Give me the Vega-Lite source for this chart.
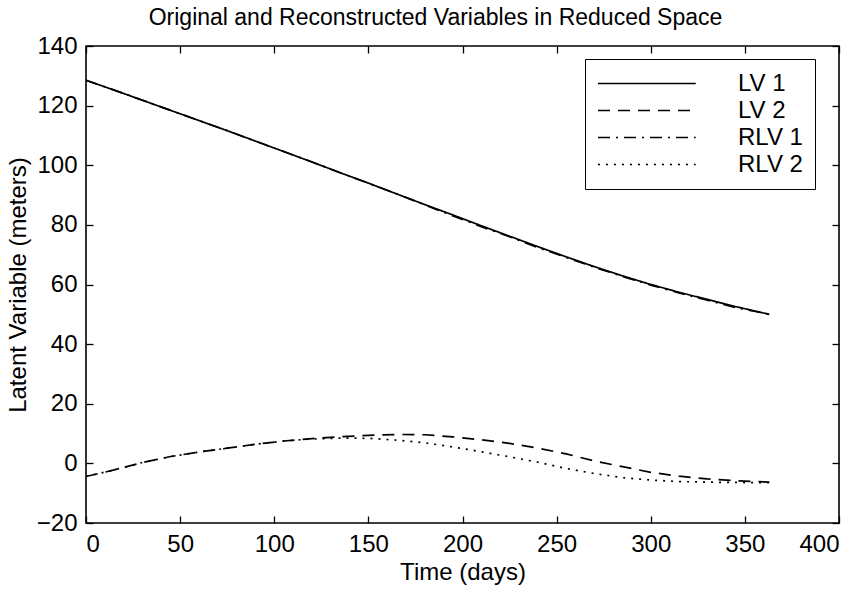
{
  "$schema": "https://vega.github.io/schema/vega-lite/v6.json",
  "width": 753,
  "height": 477,
  "autosize": {"type": "none"},
  "padding": {"left": 86, "top": 46, "right": 29, "bottom": 69},
  "background": "white",
  "config": {
    "font": "Liberation Sans",
    "view": {"stroke": "black", "strokeWidth": 1.6},
    "axis": {
      "grid": false,
      "domain": false,
      "tickColor": "black",
      "tickSize": -7,
      "tickWidth": 1.3,
      "labelFont": "Liberation Sans",
      "labelFontSize": 24,
      "labelColor": "black",
      "titleFont": "Liberation Sans",
      "titleFontSize": 24,
      "titleFontWeight": "normal",
      "titleColor": "black"
    }
  },
  "title": {
    "text": "Original and Reconstructed Variables in Reduced Space",
    "fontSize": 23,
    "fontWeight": "normal",
    "font": "Liberation Sans",
    "color": "black",
    "anchor": "middle",
    "dx": -27,
    "offset": 4
  },
  "data": {
    "values": [
      {"t": 0, "v": 128.5, "s": "LV 1"}, {"t": 15, "v": 125.2, "s": "LV 1"}, {"t": 30, "v": 121.8, "s": "LV 1"}, {"t": 45, "v": 118.4, "s": "LV 1"}, {"t": 60, "v": 115.0, "s": "LV 1"}, {"t": 75, "v": 111.6, "s": "LV 1"}, {"t": 90, "v": 108.1, "s": "LV 1"}, {"t": 105, "v": 104.6, "s": "LV 1"}, {"t": 120, "v": 101.1, "s": "LV 1"}, {"t": 135, "v": 97.5, "s": "LV 1"}, {"t": 150, "v": 94.0, "s": "LV 1"}, {"t": 165, "v": 90.4, "s": "LV 1"}, {"t": 180, "v": 86.8, "s": "LV 1"}, {"t": 195, "v": 83.3, "s": "LV 1"}, {"t": 210, "v": 79.7, "s": "LV 1"}, {"t": 225, "v": 76.2, "s": "LV 1"}, {"t": 240, "v": 72.7, "s": "LV 1"}, {"t": 255, "v": 69.3, "s": "LV 1"}, {"t": 270, "v": 66.0, "s": "LV 1"}, {"t": 285, "v": 62.9, "s": "LV 1"}, {"t": 300, "v": 60.0, "s": "LV 1"}, {"t": 315, "v": 57.4, "s": "LV 1"}, {"t": 330, "v": 55.0, "s": "LV 1"}, {"t": 345, "v": 52.6, "s": "LV 1"}, {"t": 363, "v": 50.0, "s": "LV 1"},
      {"t": 0, "v": -4.4, "s": "LV 2"}, {"t": 15, "v": -2.2, "s": "LV 2"}, {"t": 30, "v": 0.3, "s": "LV 2"}, {"t": 45, "v": 2.3, "s": "LV 2"}, {"t": 60, "v": 3.8, "s": "LV 2"}, {"t": 75, "v": 5.1, "s": "LV 2"}, {"t": 90, "v": 6.4, "s": "LV 2"}, {"t": 105, "v": 7.5, "s": "LV 2"}, {"t": 120, "v": 8.3, "s": "LV 2"}, {"t": 135, "v": 8.9, "s": "LV 2"}, {"t": 150, "v": 9.4, "s": "LV 2"}, {"t": 165, "v": 9.7, "s": "LV 2"}, {"t": 180, "v": 9.6, "s": "LV 2"}, {"t": 195, "v": 8.9, "s": "LV 2"}, {"t": 210, "v": 7.9, "s": "LV 2"}, {"t": 225, "v": 6.7, "s": "LV 2"}, {"t": 240, "v": 5.1, "s": "LV 2"}, {"t": 255, "v": 3.2, "s": "LV 2"}, {"t": 270, "v": 0.8, "s": "LV 2"}, {"t": 285, "v": -1.1, "s": "LV 2"}, {"t": 300, "v": -3.0, "s": "LV 2"}, {"t": 315, "v": -4.3, "s": "LV 2"}, {"t": 330, "v": -5.2, "s": "LV 2"}, {"t": 345, "v": -5.8, "s": "LV 2"}, {"t": 363, "v": -6.3, "s": "LV 2"},
      {"t": 0, "v": 128.5, "s": "RLV 1"}, {"t": 15, "v": 125.2, "s": "RLV 1"}, {"t": 30, "v": 121.8, "s": "RLV 1"}, {"t": 45, "v": 118.4, "s": "RLV 1"}, {"t": 60, "v": 115.0, "s": "RLV 1"}, {"t": 75, "v": 111.6, "s": "RLV 1"}, {"t": 90, "v": 108.1, "s": "RLV 1"}, {"t": 105, "v": 104.6, "s": "RLV 1"}, {"t": 120, "v": 101.1, "s": "RLV 1"}, {"t": 135, "v": 97.5, "s": "RLV 1"}, {"t": 150, "v": 94.0, "s": "RLV 1"}, {"t": 165, "v": 90.4, "s": "RLV 1"}, {"t": 180, "v": 86.7, "s": "RLV 1"}, {"t": 195, "v": 83.0, "s": "RLV 1"}, {"t": 210, "v": 79.4, "s": "RLV 1"}, {"t": 225, "v": 76.0, "s": "RLV 1"}, {"t": 240, "v": 72.4, "s": "RLV 1"}, {"t": 255, "v": 69.1, "s": "RLV 1"}, {"t": 270, "v": 65.8, "s": "RLV 1"}, {"t": 285, "v": 62.7, "s": "RLV 1"}, {"t": 300, "v": 59.8, "s": "RLV 1"}, {"t": 315, "v": 57.2, "s": "RLV 1"}, {"t": 330, "v": 54.7, "s": "RLV 1"}, {"t": 345, "v": 52.3, "s": "RLV 1"}, {"t": 363, "v": 50.0, "s": "RLV 1"},
      {"t": 0, "v": -4.4, "s": "RLV 2"}, {"t": 15, "v": -2.2, "s": "RLV 2"}, {"t": 30, "v": 0.3, "s": "RLV 2"}, {"t": 45, "v": 2.3, "s": "RLV 2"}, {"t": 60, "v": 3.8, "s": "RLV 2"}, {"t": 75, "v": 5.1, "s": "RLV 2"}, {"t": 90, "v": 6.4, "s": "RLV 2"}, {"t": 105, "v": 7.5, "s": "RLV 2"}, {"t": 120, "v": 8.2, "s": "RLV 2"}, {"t": 135, "v": 8.5, "s": "RLV 2"}, {"t": 150, "v": 8.4, "s": "RLV 2"}, {"t": 165, "v": 7.8, "s": "RLV 2"}, {"t": 180, "v": 6.9, "s": "RLV 2"}, {"t": 195, "v": 5.5, "s": "RLV 2"}, {"t": 210, "v": 3.9, "s": "RLV 2"}, {"t": 225, "v": 2.2, "s": "RLV 2"}, {"t": 240, "v": 0.4, "s": "RLV 2"}, {"t": 255, "v": -1.7, "s": "RLV 2"}, {"t": 270, "v": -3.4, "s": "RLV 2"}, {"t": 285, "v": -4.8, "s": "RLV 2"}, {"t": 300, "v": -5.6, "s": "RLV 2"}, {"t": 315, "v": -6.1, "s": "RLV 2"}, {"t": 330, "v": -6.3, "s": "RLV 2"}, {"t": 345, "v": -6.4, "s": "RLV 2"}, {"t": 363, "v": -6.5, "s": "RLV 2"}
    ]
  },
  "layer": [
    {
      "mark": {"type": "line", "color": "black", "strokeWidth": 1.7},
      "encoding": {
        "x": {"field": "t", "type": "quantitative", "scale": {"domain": [0, 400], "nice": false, "zero": false},
              "axis": {"orient": "bottom", "title": "Time (days)", "values": [0, 50, 100, 150, 200, 250, 300, 350, 400], "labelPadding": 16, "titlePadding": 4}},
        "y": {"field": "v", "type": "quantitative", "scale": {"domain": [-20, 140], "nice": false, "zero": false},
              "axis": {"orient": "left", "title": "Latent Variable (meters)", "values": [-20, 0, 20, 40, 60, 80, 100, 120, 140], "labelPadding": 16, "titlePadding": 6}},
        "strokeDash": {
          "field": "s", "type": "nominal",
          "scale": {"domain": ["LV 1", "LV 2", "RLV 1", "RLV 2"], "range": [[1, 0], [12, 8], [12, 6, 2, 6], [2, 6]]},
          "legend": {
            "title": null,
            "orient": "none",
            "legendX": 499,
            "legendY": 13,
            "symbolType": "M-1,0H7.5",
            "symbolSize": 529,
            "symbolStrokeWidth": 1.6,
            "symbolStrokeColor": "black",
            "symbolFillColor": "transparent",
            "labelFontSize": 24,
            "labelFont": "Liberation Sans",
            "labelColor": "black",
            "labelOffset": 116,
            "rowPadding": 2,
            "padding": 12,
            "strokeColor": "black",
            "fillColor": "white"
          }
        }
      }
    },
    {
      "mark": {"type": "line", "opacity": 0},
      "encoding": {
        "x": {"field": "t", "type": "quantitative",
              "axis": {"orient": "top", "title": null, "labels": false, "values": [0, 50, 100, 150, 200, 250, 300, 350, 400]}},
        "y": {"field": "v", "type": "quantitative",
              "axis": {"orient": "right", "title": null, "labels": false, "values": [-20, 0, 20, 40, 60, 80, 100, 120, 140]}}
      }
    }
  ],
  "resolve": {"axis": {"x": "independent", "y": "independent"}}
}
